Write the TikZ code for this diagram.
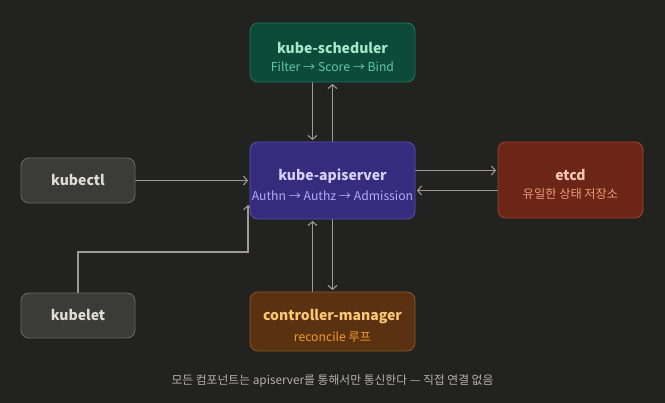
\documentclass[tikz,border=0pt]{standalone}
\usepackage{fontspec}
\setmainfont{Noto Sans CJK KR}
\usetikzlibrary{arrows.meta, positioning, backgrounds}
\definecolor{bgDark}{HTML}{222221}
\definecolor{lineGray}{HTML}{9C9A92}
\definecolor{capGray}{HTML}{B4B2A9}
% box colours
\definecolor{grayFill}{HTML}{3B3B37}
\definecolor{grayLine}{HTML}{6B6B66}
\definecolor{grayText}{HTML}{DDDCD5}
\definecolor{greenFill}{HTML}{0D4A3A}
\definecolor{greenLine}{HTML}{1D7A5C}
\definecolor{greenTitle}{HTML}{A8E6CC}
\definecolor{greenSub}{HTML}{5DCAA5}
\definecolor{purpleFill}{HTML}{372B7D}
\definecolor{purpleLine}{HTML}{5B50B5}
\definecolor{purpleTitle}{HTML}{D6D2F7}
\definecolor{purpleSub}{HTML}{B2AAF2}
\definecolor{redFill}{HTML}{6B2618}
\definecolor{redLine}{HTML}{A5432E}
\definecolor{redTitle}{HTML}{F5C4B3}
\definecolor{redSub}{HTML}{F0997B}
\definecolor{brownFill}{HTML}{5A3212}
\definecolor{brownLine}{HTML}{8E5722}
\definecolor{brownTitle}{HTML}{FAC775}
\definecolor{brownSub}{HTML}{EF9F27}

\newcommand{\boxtitle}[1]{{\fontsize{14}{16}\selectfont\bfseries\rule{0pt}{20pt}#1}}
\newcommand{\boxsub}[1]{{\fontsize{12.2}{14}\selectfont #1}}

\begin{document}
\begin{tikzpicture}[x=1pt, y=-1pt,
    box/.style={draw, rounded corners=8pt, line width=0.8pt, align=center,
                minimum width=165pt, minimum height=59pt, inner sep=0pt},
    flow/.style={->, lineGray, line width=1.2pt, shorten >=1.5pt},
    >={Straight Barb[length=4pt, width=9pt, line width=1.1pt]}]
    \useasboundingbox (0,0) rectangle (665,403);

    \node[box, fill=greenFill, draw=greenLine] (sched) at (332.5,52.5)
        {\textcolor{greenTitle}{\boxtitle{kube-scheduler}}\\[6.5pt]
         \textcolor{greenSub}{\boxsub{Filter → Score → Bind}}};
    \node[box, fill=purpleFill, draw=purpleLine, minimum height=77pt] (api) at (332.5,180.5)
        {\textcolor{purpleTitle}{\boxtitle{kube-apiserver}}\\[6.5pt]
         \textcolor{purpleSub}{\boxsub{Authn → Authz → Admission}}};
    \node[box, fill=redFill, draw=redLine, minimum width=145pt, minimum height=76pt] (etcd) at (570.5,180)
        {\textcolor{redTitle}{\boxtitle{etcd}}\\[6.5pt]
         \textcolor{redSub}{\boxsub{유일한 상태 저장소}}};
    \node[box, fill=grayFill, draw=grayLine, minimum width=114pt, minimum height=45pt,
          text=grayText, font=\fontsize{14}{16}\selectfont\bfseries] (kubectl) at (78,180.5) {kubectl};
    \node[box, fill=grayFill, draw=grayLine, minimum width=114pt, minimum height=45pt,
          text=grayText, font=\fontsize{14}{16}\selectfont\bfseries] (kubelet) at (78,315.5) {kubelet};
    \node[box, fill=brownFill, draw=brownLine] (ctrl) at (332.5,321.5)
        {\textcolor{brownTitle}{\boxtitle{controller-manager}}\\[6.5pt]
         \textcolor{brownSub}{\boxsub{reconcile 루프}}};

    \node[text=capGray, font=\fontsize{11.8}{13}\selectfont] (caption) at (332.5,381)
        {모든 컴포넌트는 apiserver를 통해서만 통신한다 — 직접 연결 없음};

    \coordinate (kbend) at (248,252);
    \coordinate (ktip) at (248,205);

    \begin{scope}[on background layer]
        \fill[bgDark] (0,0) rectangle (665,403);
        \draw[flow] ([xshift=-20pt]sched.south) -- ([xshift=-20pt]api.north);
        \draw[flow] (api.north) -- (sched.south);
        \draw[flow] ([xshift=-20pt]ctrl.north) -- ([xshift=-20pt]api.south);
        \draw[flow] (api.south) -- (ctrl.north);
        \draw[flow] ([yshift=10pt]api.east) -- ([yshift=10pt]api.east -| etcd.west);
        \draw[flow] ([yshift=-10.5pt]etcd.west) -- ([yshift=-10.5pt]etcd.west -| api.east);
        \draw[flow] (kubectl.east) -- (kubectl.east -| api.west);
        \draw[flow, shorten >=0pt] (kubelet.north) |- (kbend) -- (ktip);
    \end{scope}
\end{tikzpicture}
\end{document}
